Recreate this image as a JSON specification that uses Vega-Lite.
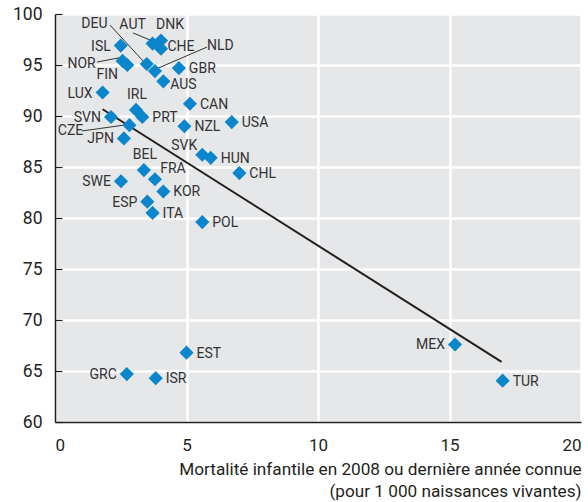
{
  "$schema": "https://vega.github.io/schema/vega-lite/v6.json",
  "width": 526,
  "height": 408,
  "autosize": {"type": "none"},
  "padding": {"left": 55, "top": 14, "right": 7, "bottom": 80},
  "background": "white",
  "config": {
    "view": {"fill": "#e6e7e8", "stroke": null},
    "font": "Roboto",
    "text": {"font": "Roboto", "fontSize": 14, "color": "#333333", "baseline": "middle"}
  },
  "datasets": {
    "pts": [
      {"country": "ISL", "x": 2.50, "y": 96.9},
      {"country": "AUT", "x": 3.71, "y": 97.1},
      {"country": "DNK", "x": 4.03, "y": 97.4},
      {"country": "CHE", "x": 4.03, "y": 96.6},
      {"country": "NOR", "x": 2.57, "y": 95.4},
      {"country": "FIN", "x": 2.75, "y": 95.0},
      {"country": "DEU", "x": 3.49, "y": 95.1},
      {"country": "NLD", "x": 3.80, "y": 94.4},
      {"country": "AUS", "x": 4.12, "y": 93.4},
      {"country": "GBR", "x": 4.71, "y": 94.7},
      {"country": "LUX", "x": 1.81, "y": 92.3},
      {"country": "CAN", "x": 5.13, "y": 91.2},
      {"country": "IRL", "x": 3.08, "y": 90.6},
      {"country": "PRT", "x": 3.32, "y": 89.9},
      {"country": "SVN", "x": 2.13, "y": 89.9},
      {"country": "CZE", "x": 2.83, "y": 89.1},
      {"country": "JPN", "x": 2.62, "y": 87.8},
      {"country": "NZL", "x": 4.92, "y": 89.0},
      {"country": "USA", "x": 6.72, "y": 89.4},
      {"country": "SVK", "x": 5.60, "y": 86.2},
      {"country": "HUN", "x": 5.92, "y": 85.9},
      {"country": "BEL", "x": 3.38, "y": 84.7},
      {"country": "CHL", "x": 7.01, "y": 84.4},
      {"country": "SWE", "x": 2.51, "y": 83.6},
      {"country": "FRA", "x": 3.80, "y": 83.8},
      {"country": "KOR", "x": 4.12, "y": 82.6},
      {"country": "ESP", "x": 3.51, "y": 81.6},
      {"country": "ITA", "x": 3.71, "y": 80.5},
      {"country": "POL", "x": 5.60, "y": 79.6},
      {"country": "EST", "x": 5.00, "y": 66.8},
      {"country": "GRC", "x": 2.73, "y": 64.7},
      {"country": "ISR", "x": 3.83, "y": 64.3},
      {"country": "MEX", "x": 15.21, "y": 67.6},
      {"country": "TUR", "x": 17.02, "y": 64.05}
    ],
    "trend": [
      {"x": 1.81, "y": 90.66},
      {"x": 16.98, "y": 65.9}
    ],
    "callouts": [
      {"country": "DEU", "lx": 1.50, "ly": 99.02, "sx": 2.09, "sy": 98.92, "ex": 3.49, "ey": 95.0},
      {"country": "AUT", "lx": 2.95, "ly": 98.92, "sx": 2.97, "sy": 98.14, "ex": 3.61, "ey": 97.45},
      {"country": "NLD", "lx": 6.29, "ly": 96.86, "sx": 5.78, "sy": 96.76, "ex": 3.93, "ey": 94.7},
      {"country": "NOR", "lx": 1.01, "ly": 95.10, "sx": 1.60, "sy": 95.29, "ex": 2.59, "ey": 95.78},
      {"country": "CZE", "lx": 0.59, "ly": 88.53, "sx": 1.03, "sy": 88.53, "ex": 2.66, "ey": 89.12}
    ]
  },
  "layer": [
    {
      "data": {"name": "trend"},
      "mark": {"type": "line", "color": "#231f20", "strokeWidth": 2},
      "encoding": {
        "x": {
          "field": "x", "type": "quantitative",
          "scale": {"domain": [0, 20], "nice": false, "zero": false},
          "axis": {
            "values": [0, 5, 10, 15, 20],
            "grid": true, "gridColor": "white", "gridWidth": 2.5,
            "ticks": false,
            "domain": true, "domainColor": "#231f20", "domainWidth": 1.5,
            "labelFont": "Roboto", "labelFontSize": 17, "labelColor": "#231f20", "labelPadding": 15,
            "title": ["Mortalité infantile en 2008 ou dernière année connue", "(pour 1 000 naissances vivantes)"],
            "titleFont": "Roboto", "titleFontSize": 17.2, "titleFontWeight": "normal", "titleColor": "#231f20",
            "titleAnchor": "end", "titleAlign": "right", "titlePadding": 7, "titleLineHeight": 22.5
          }
        },
        "y": {
          "field": "y", "type": "quantitative",
          "scale": {"domain": [60, 100], "nice": false, "zero": false},
          "axis": {
            "values": [60, 65, 70, 75, 80, 85, 90, 95, 100],
            "grid": true, "gridColor": "white", "gridWidth": 2.5,
            "ticks": true, "tickSize": -7, "tickColor": "#231f20", "tickWidth": 1.2,
            "domain": true, "domainColor": "#231f20", "domainWidth": 1.5,
            "labelFont": "Roboto", "labelFontSize": 17.5, "labelColor": "#231f20", "labelPadding": 20,
            "title": null
          }
        }
      }
    },
    {
      "data": {"name": "callouts"},
      "mark": {"type": "rule", "color": "#333333", "strokeWidth": 1},
      "encoding": {
        "x": {"field": "sx", "type": "quantitative"},
        "y": {"field": "sy", "type": "quantitative"},
        "x2": {"field": "ex"},
        "y2": {"field": "ey"}
      }
    },
    {
      "data": {"name": "pts"},
      "mark": {"type": "point", "shape": "diamond", "filled": true, "size": 200, "color": "#0b86cc", "opacity": 1},
      "encoding": {
        "x": {"field": "x", "type": "quantitative"},
        "y": {"field": "y", "type": "quantitative"}
      }
    },
    {
      "data": {"name": "callouts"},
      "mark": {"type": "text", "align": "center"},
      "encoding": {
        "x": {"field": "lx", "type": "quantitative"},
        "y": {"field": "ly", "type": "quantitative"},
        "text": {"field": "country"}
      }
    },
    {
      "data": {"name": "pts"},
      "transform": [{"filter": {"field": "country", "oneOf": ["GBR", "CAN", "PRT", "NZL", "USA", "HUN", "CHL", "KOR", "ITA", "POL", "EST", "ISR", "TUR"]}}],
      "mark": {"type": "text", "align": "left", "dx": 10, "dy": 1},
      "encoding": {
        "x": {"field": "x", "type": "quantitative"},
        "y": {"field": "y", "type": "quantitative"},
        "text": {"field": "country"}
      }
    },
    {
      "data": {"name": "pts"},
      "transform": [{"filter": {"field": "country", "oneOf": ["ISL", "LUX", "SVN", "JPN", "SWE", "ESP", "GRC", "MEX"]}}],
      "mark": {"type": "text", "align": "right", "dx": -10, "dy": 1},
      "encoding": {
        "x": {"field": "x", "type": "quantitative"},
        "y": {"field": "y", "type": "quantitative"},
        "text": {"field": "country"}
      }
    },
    {
      "data": {"name": "pts"},
      "transform": [{"filter": {"field": "country", "oneOf": ["IRL", "BEL"]}}],
      "mark": {"type": "text", "align": "center", "dx": 1, "dy": -15},
      "encoding": {
        "x": {"field": "x", "type": "quantitative"},
        "y": {"field": "y", "type": "quantitative"},
        "text": {"field": "country"}
      }
    },
    {
      "data": {"name": "pts"},
      "transform": [{"filter": {"field": "country", "equal": "DNK"}}],
      "mark": {"type": "text", "align": "center", "dx": 9, "dy": -16},
      "encoding": {
        "x": {"field": "x", "type": "quantitative"},
        "y": {"field": "y", "type": "quantitative"},
        "text": {"field": "country"}
      }
    },
    {
      "data": {"name": "pts"},
      "transform": [{"filter": {"field": "country", "equal": "FIN"}}],
      "mark": {"type": "text", "align": "center", "dx": -20, "dy": 10},
      "encoding": {
        "x": {"field": "x", "type": "quantitative"},
        "y": {"field": "y", "type": "quantitative"},
        "text": {"field": "country"}
      }
    },
    {
      "data": {"name": "pts"},
      "transform": [{"filter": {"field": "country", "equal": "SVK"}}],
      "mark": {"type": "text", "align": "center", "dx": -18, "dy": -9},
      "encoding": {
        "x": {"field": "x", "type": "quantitative"},
        "y": {"field": "y", "type": "quantitative"},
        "text": {"field": "country"}
      }
    },
    {
      "data": {"name": "pts"},
      "transform": [{"filter": {"field": "country", "equal": "FRA"}}],
      "mark": {"type": "text", "align": "center", "dx": 18, "dy": -10},
      "encoding": {
        "x": {"field": "x", "type": "quantitative"},
        "y": {"field": "y", "type": "quantitative"},
        "text": {"field": "country"}
      }
    },
    {
      "data": {"name": "pts"},
      "transform": [{"filter": {"field": "country", "equal": "AUS"}}],
      "mark": {"type": "text", "align": "center", "dx": 20, "dy": 4},
      "encoding": {
        "x": {"field": "x", "type": "quantitative"},
        "y": {"field": "y", "type": "quantitative"},
        "text": {"field": "country"}
      }
    },
    {
      "data": {"name": "pts"},
      "transform": [{"filter": {"field": "country", "equal": "CHE"}}],
      "mark": {"type": "text", "align": "center", "dx": 20, "dy": -2},
      "encoding": {
        "x": {"field": "x", "type": "quantitative"},
        "y": {"field": "y", "type": "quantitative"},
        "text": {"field": "country"}
      }
    }
  ]
}
